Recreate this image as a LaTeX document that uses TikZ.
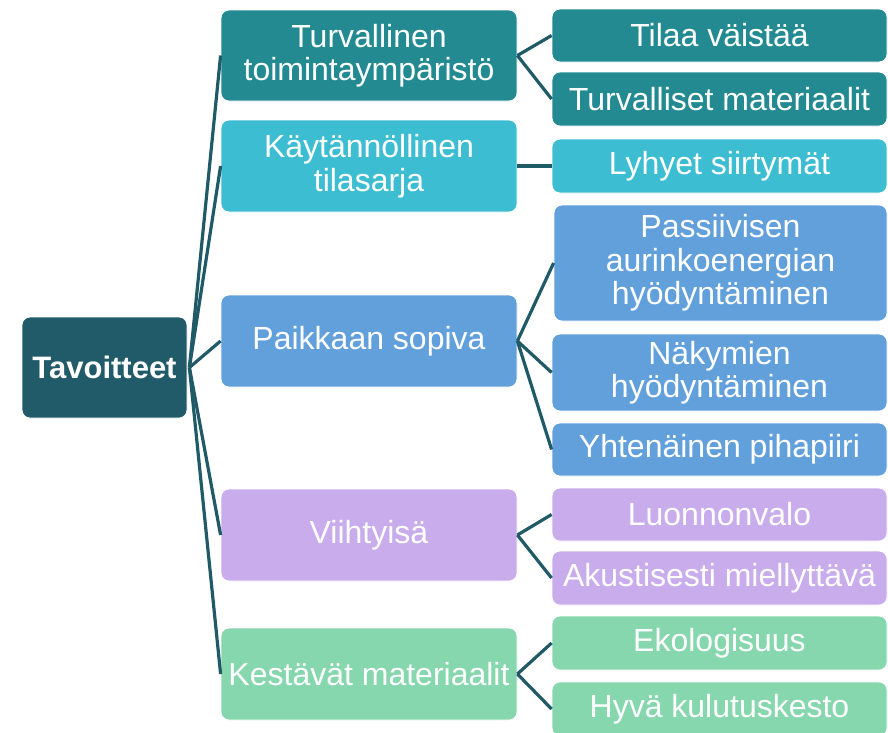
\documentclass[tikz,border=0pt]{standalone}
\usepackage{fontspec}
\setmainfont{Liberation Sans}
\begin{document}
\begin{tikzpicture}[x=1pt,y=-1pt,
  box/.style={rectangle, rounded corners=8pt, draw=white, line width=0.8pt,
    text=white, align=center, inner sep=0pt,
    font=\fontsize{32}{33.5}\selectfont},
  rootbox/.style={box, fill=cRoot, font=\fontsize{31}{33.5}\selectfont\bfseries,
    minimum width=165pt, minimum height=101pt},
  lvlone/.style={box, minimum width=296pt, minimum height=92pt},
  lvltwo/.style={box, minimum width=335pt, minimum height=54pt},
  link/.style={draw=cLine, line width=3.2pt}
]
\definecolor{cRoot}{HTML}{215A69}
\definecolor{cLine}{HTML}{1F5A66}
\definecolor{cA}{HTML}{238A92}
\definecolor{cB}{HTML}{3DBDD1}
\definecolor{cC}{HTML}{62A0DC}
\definecolor{cD}{HTML}{C8ACEC}
\definecolor{cE}{HTML}{86D7AE}

\useasboundingbox (0,0) rectangle (888,732);
\clip (0,0) rectangle (888,732);

% root
\node[rootbox] (root) at (104.5,367.5) {Tavoitteet};

% first level
\node[lvlone, fill=cA, minimum height=91pt] (A) at (369,55.5) {Turvallinen\\toimintaympäristö};
\node[lvlone, fill=cB] (B) at (369,166) {Käytännöllinen\\tilasarja};
\node[lvlone, fill=cC] (C) at (369,341) {Paikkaan sopiva};
\node[lvlone, fill=cD] (D) at (369,535) {Viihtyisä};
\node[lvlone, fill=cE] (E) at (369,674) {Kestävät materiaalit};

% second level
\node[lvltwo, fill=cA, minimum height=53pt] (a1) at (719.5,35.5) {Tilaa väistää};
\node[lvltwo, fill=cA] (a2) at (719.5,99) {Turvalliset materiaalit};
\node[lvltwo, fill=cB] (b1) at (719.5,166) {Lyhyet siirtymät};
\node[lvltwo, fill=cC, minimum width=333pt, minimum height=116pt] (c1) at (720.5,263) {Passiivisen\\aurinkoenergian\\hyödyntäminen};
\node[lvltwo, fill=cC, minimum height=77pt] (c2) at (719.5,372.5) {Näkymien\\hyödyntäminen};
\node[lvltwo, fill=cC, minimum height=53pt] (c3) at (719.5,449.5) {Yhtenäinen pihapiiri};
\node[lvltwo, fill=cD, minimum height=53pt] (d1) at (719.5,514.5) {Luonnonvalo};
\node[lvltwo, fill=cD] (d2) at (719.5,578) {Akustisesti miellyttävä};
\node[lvltwo, fill=cE] (e1) at (719.5,643) {Ekologisuus};
\node[lvltwo, fill=cE] (e2) at (719.5,709) {Hyvä kulutuskesto};

% connectors
\foreach \t in {A,B,C,D,E}
  \draw[link] ([xshift=2pt]root.east) -- (\t.west);
\foreach \s/\t in {A/a1,A/a2,B/b1,C/c1,C/c2,C/c3,D/d1,D/d2,E/e1,E/e2}
  \draw[link] (\s.east) -- (\t.west);
\end{tikzpicture}
\end{document}
